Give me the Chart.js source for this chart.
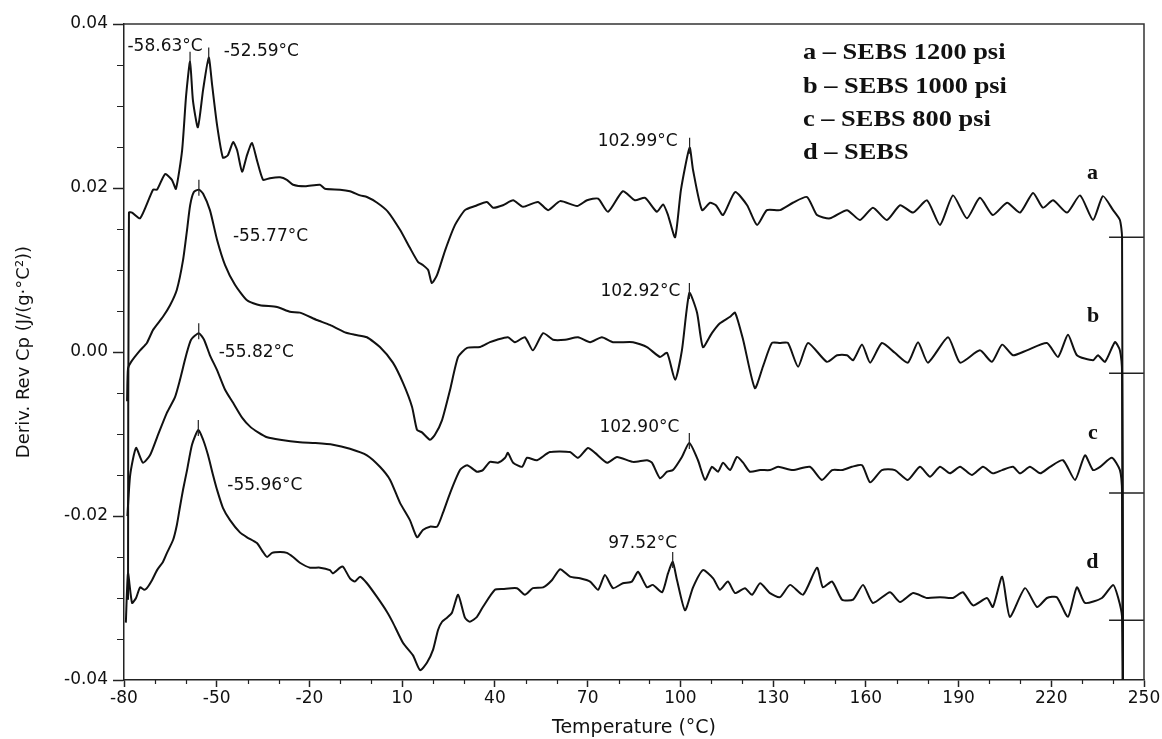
<!DOCTYPE html>
<html>
<head>
<meta charset="utf-8">
<title>Deriv. Rev Cp</title>
<script src="https://cdn.jsdelivr.net/npm/chart.js@4.4.1/dist/chart.umd.min.js"></script>
<style>
  html, body { margin: 0; padding: 0; background: #fff; }
  #wrap { width: 1162px; height: 739px; }
</style>
</head>
<body>
<div id="wrap"><canvas id="myChart" width="1162" height="739"></canvas></div>
<script>
// temperature (°C), deriv. rev Cp (J/(g·°C²))
const curveA = [
  [-78.7, -0.0302], [-78.4, 0.0170], [-77.4, 0.0170], [-74.8, 0.0163], [-70.6, 0.0198], [-69.3, 0.0198],
  [-66.7, 0.0217], [-64.5, 0.0210], [-63.2, 0.0199], [-61.2, 0.0246], [-59.9, 0.0313], [-58.63, 0.0354],
  [-57.7, 0.0307], [-56.1, 0.0274], [-54.4, 0.0320], [-52.59, 0.0359], [-51.5, 0.0326], [-49.9, 0.0277],
  [-48.0, 0.0237], [-46.4, 0.0240], [-44.7, 0.0256], [-43.4, 0.0246], [-41.8, 0.0220], [-40.2, 0.0240],
  [-38.6, 0.0255], [-37.0, 0.0234], [-35.0, 0.0210], [-32.8, 0.0212], [-29.5, 0.0213], [-27.3, 0.0210],
  [-25.3, 0.0204], [-21.4, 0.0202], [-16.6, 0.0204], [-15.0, 0.0199], [-10.1, 0.0198], [-6.9, 0.0196],
  [-3.6, 0.0191], [-1.4, 0.0189], [1.9, 0.0182], [5.4, 0.0171], [9.3, 0.0149], [12.5, 0.0127],
  [15.1, 0.0110], [16.7, 0.0106], [18.4, 0.0100], [19.6, 0.0084], [21.3, 0.0094], [23.9, 0.0124],
  [27.1, 0.0155], [30.3, 0.0173], [33.6, 0.0178], [37.4, 0.0183], [39.4, 0.0176], [42.6, 0.0179],
  [45.9, 0.0185], [49.1, 0.0177], [53.9, 0.0183], [57.2, 0.0173], [61.1, 0.0184], [66.6, 0.0178],
  [69.8, 0.0185], [73.4, 0.0187], [76.6, 0.0171], [81.4, 0.0196], [85.3, 0.0185], [88.6, 0.0188],
  [92.4, 0.0171], [94.4, 0.0180], [96.0, 0.0167], [98.3, 0.0140], [100.2, 0.0198], [102.99, 0.0249],
  [104.1, 0.0222], [107.0, 0.0173], [109.6, 0.0182], [111.5, 0.0179], [113.8, 0.0167], [117.7, 0.0195],
  [121.6, 0.0179], [124.8, 0.0155], [128.0, 0.0173], [132.2, 0.0173], [136.4, 0.0182], [141.0, 0.0189],
  [144.2, 0.0167], [148.4, 0.0163], [153.9, 0.0173], [158.1, 0.0161], [162.3, 0.0176], [166.8, 0.0161],
  [171.1, 0.0179], [175.3, 0.0170], [179.8, 0.0185], [184.0, 0.0155], [188.2, 0.0191], [192.7, 0.0163],
  [196.9, 0.0188], [201.1, 0.0167], [205.7, 0.0182], [209.9, 0.0170], [214.1, 0.0194], [217.3, 0.0176],
  [220.6, 0.0185], [225.1, 0.0170], [229.3, 0.0191], [233.5, 0.0161], [236.7, 0.0190], [240.0, 0.0173],
  [242.2, 0.0161], [242.9, 0.0140], [243.2, -0.045]
];

const curveB = [
  [-79.0, -0.0060], [-78.7, -0.0020], [-77.7, -0.0012], [-74.8, 0.0002], [-72.6, 0.0011], [-70.6, 0.0027],
  [-67.4, 0.0043], [-65.1, 0.0057], [-62.9, 0.0076], [-60.9, 0.0112], [-59.6, 0.0149], [-58.6, 0.0179],
  [-57.4, 0.0195], [-55.77, 0.0198], [-54.4, 0.0193], [-52.2, 0.0173], [-49.9, 0.0137], [-47.3, 0.0106],
  [-44.1, 0.0082], [-40.2, 0.0063], [-36.0, 0.0057], [-30.5, 0.0055], [-26.3, 0.0049], [-23.1, 0.0048],
  [-17.6, 0.0039], [-13.4, 0.0033], [-8.5, 0.0024], [-5.3, 0.0021], [-1.4, 0.0018], [2.8, 0.0006],
  [7.0, -0.0013], [10.3, -0.0038], [13.2, -0.0067], [14.8, -0.0095], [16.4, -0.0098], [19.0, -0.0107],
  [20.6, -0.0101], [22.9, -0.0083], [25.5, -0.0046], [28.1, -0.0006], [31.0, 0.0005], [35.2, 0.0006],
  [38.4, 0.0012], [40.7, 0.0015], [44.2, 0.0018], [46.5, 0.0012], [49.7, 0.0018], [52.3, 0.0002],
  [55.6, 0.0023], [58.8, 0.0015], [62.7, 0.0015], [66.9, 0.0018], [70.8, 0.0012], [74.6, 0.0018],
  [78.2, 0.0012], [84.7, 0.0012], [89.2, 0.0006], [93.4, -0.0006], [95.7, -0.0001], [98.3, -0.0034],
  [100.5, 0.0002], [102.92, 0.0072], [105.4, 0.0048], [107.3, 0.0006], [110.2, 0.0023], [112.8, 0.0035],
  [116.1, 0.0043], [117.7, 0.0048], [120.3, 0.0015], [124.1, -0.0044], [126.7, -0.0018], [129.6, 0.0011],
  [132.2, 0.0011], [134.8, 0.0011], [138.1, -0.0018], [141.3, 0.0011], [147.4, -0.0012], [150.7, -0.0004],
  [153.9, -0.0004], [155.9, -0.0010], [158.8, 0.0009], [161.4, -0.0013], [165.2, 0.0011], [169.4, -0.0001],
  [173.6, -0.0013], [176.9, 0.0012], [180.1, -0.0013], [186.6, 0.0018], [190.5, -0.0013], [196.9, 0.0002],
  [200.8, -0.0012], [204.1, 0.0009], [207.6, -0.0004], [212.1, 0.0002], [218.6, 0.0011], [222.2, -0.0006],
  [225.4, 0.0021], [228.3, -0.0004], [233.5, -0.0010], [235.1, -0.0004], [237.4, -0.0012], [240.6, 0.0012],
  [242.2, 0.0002], [242.9, -0.0026], [243.2, -0.045]
];

const curveC = [
  [-78.9, -0.0200], [-78.0, -0.0150], [-76.1, -0.0117], [-73.9, -0.0135], [-71.6, -0.0126], [-69.3, -0.0104],
  [-66.1, -0.0074], [-63.5, -0.0055], [-61.9, -0.0034], [-59.9, -0.0004], [-58.3, 0.0015], [-55.82, 0.0023],
  [-54.1, 0.0015], [-52.2, -0.0004], [-49.9, -0.0022], [-47.3, -0.0046], [-44.7, -0.0062], [-41.8, -0.0080],
  [-39.2, -0.0091], [-36.6, -0.0098], [-33.7, -0.0104], [-29.5, -0.0107], [-23.1, -0.0110], [-18.2, -0.0111],
  [-12.4, -0.0113], [-6.9, -0.0118], [-1.4, -0.0126], [2.8, -0.0140], [6.1, -0.0156], [9.3, -0.0184],
  [12.5, -0.0205], [14.8, -0.0226], [16.7, -0.0217], [19.0, -0.0213], [21.3, -0.0213], [23.2, -0.0196],
  [25.5, -0.0172], [28.7, -0.0144], [31.0, -0.0138], [34.2, -0.0146], [36.1, -0.0144], [38.4, -0.0134],
  [41.0, -0.0135], [43.3, -0.0129], [44.2, -0.0123], [45.9, -0.0135], [48.8, -0.0140], [50.4, -0.0129],
  [53.6, -0.0132], [57.8, -0.0122], [64.3, -0.0122], [66.9, -0.0129], [70.1, -0.0117], [72.4, -0.0123],
  [76.3, -0.0135], [79.5, -0.0128], [84.7, -0.0134], [89.2, -0.0132], [90.8, -0.0135], [93.4, -0.0154],
  [95.7, -0.0146], [97.6, -0.0144], [100.5, -0.0128], [102.90, -0.0111], [105.7, -0.0132], [108.0, -0.0156],
  [110.2, -0.0140], [112.2, -0.0146], [113.8, -0.0135], [116.1, -0.0144], [118.3, -0.0128], [120.3, -0.0135],
  [122.5, -0.0146], [125.8, -0.0144], [129.0, -0.0144], [131.6, -0.0140], [136.4, -0.0144], [141.9, -0.0140],
  [145.8, -0.0156], [149.1, -0.0144], [152.3, -0.0144], [155.5, -0.0140], [158.8, -0.0138], [161.4, -0.0159],
  [165.2, -0.0144], [169.4, -0.0144], [173.6, -0.0156], [177.5, -0.0140], [180.8, -0.0152], [184.0, -0.0140],
  [187.2, -0.0148], [190.5, -0.0140], [194.3, -0.0150], [197.9, -0.0140], [201.1, -0.0148], [204.1, -0.0144],
  [207.6, -0.0140], [209.9, -0.0148], [213.1, -0.0140], [216.4, -0.0148], [219.6, -0.0140], [223.8, -0.0132],
  [227.7, -0.0156], [230.9, -0.0126], [233.5, -0.0144], [235.8, -0.0140], [239.6, -0.0129], [242.2, -0.0144],
  [242.9, -0.0172], [243.2, -0.045]
];

const curveD = [
  [-79.4, -0.0330], [-78.7, -0.0270], [-77.4, -0.0306], [-76.1, -0.0300], [-74.8, -0.0287], [-73.5, -0.0290],
  [-72.6, -0.0288], [-70.9, -0.0278], [-69.3, -0.0266], [-67.4, -0.0256], [-66.1, -0.0245], [-64.1, -0.0229],
  [-62.9, -0.0211], [-61.9, -0.0189], [-60.9, -0.0168], [-59.6, -0.0144], [-58.0, -0.0113], [-55.96, -0.0095],
  [-54.4, -0.0107], [-52.8, -0.0126], [-51.2, -0.0150], [-49.9, -0.0168], [-48.0, -0.0190], [-45.7, -0.0205],
  [-42.5, -0.0220], [-40.2, -0.0226], [-37.0, -0.0233], [-35.0, -0.0244], [-33.7, -0.0250], [-32.1, -0.0245],
  [-29.5, -0.0244], [-27.3, -0.0245], [-25.3, -0.0250], [-23.1, -0.0257], [-19.8, -0.0263], [-16.6, -0.0263],
  [-13.4, -0.0266], [-12.4, -0.0270], [-10.1, -0.0263], [-9.1, -0.0262], [-6.9, -0.0276], [-5.3, -0.0280],
  [-3.6, -0.0274], [-1.4, -0.0282], [1.9, -0.0299], [5.1, -0.0317], [7.0, -0.0330], [10.3, -0.0355],
  [13.5, -0.0370], [15.8, -0.0388], [18.0, -0.0379], [20.0, -0.0363], [21.6, -0.0339], [22.9, -0.0329],
  [24.5, -0.0324], [26.1, -0.0318], [28.1, -0.0296], [30.3, -0.0324], [31.9, -0.0329], [34.2, -0.0323],
  [36.1, -0.0311], [40.0, -0.0290], [42.6, -0.0289], [47.1, -0.0288], [49.7, -0.0296], [52.3, -0.0288],
  [55.6, -0.0287], [58.5, -0.0278], [61.1, -0.0265], [64.3, -0.0274], [67.5, -0.0276], [70.8, -0.0280],
  [73.4, -0.0290], [75.6, -0.0272], [78.2, -0.0288], [81.4, -0.0282], [84.3, -0.0280], [86.3, -0.0268],
  [89.2, -0.0287], [91.1, -0.0284], [94.1, -0.0293], [96.0, -0.0270], [97.52, -0.0256], [98.9, -0.0278],
  [101.5, -0.0315], [104.1, -0.0287], [107.3, -0.0266], [110.6, -0.0276], [112.8, -0.0290], [115.4, -0.0280],
  [117.7, -0.0294], [120.9, -0.0288], [123.2, -0.0296], [125.8, -0.0282], [129.0, -0.0294], [132.2, -0.0299],
  [135.5, -0.0284], [139.7, -0.0296], [144.2, -0.0263], [146.1, -0.0287], [149.1, -0.0280], [152.3, -0.0302],
  [155.9, -0.0302], [159.1, -0.0284], [162.3, -0.0306], [167.8, -0.0293], [171.1, -0.0305], [175.3, -0.0294],
  [179.8, -0.0300], [184.0, -0.0299], [188.2, -0.0300], [191.4, -0.0293], [194.7, -0.0309], [199.2, -0.0300],
  [201.1, -0.0311], [204.1, -0.0274], [206.6, -0.0323], [211.5, -0.0288], [215.4, -0.0311], [218.6, -0.0300],
  [221.8, -0.0299], [225.4, -0.0323], [228.3, -0.0287], [230.9, -0.0306], [236.4, -0.0300], [240.0, -0.0284],
  [241.6, -0.0299], [242.9, -0.0323], [243.2, -0.045]
];

const seriesNames = ["a – SEBS 1200 psi", "b – SEBS 1000 psi", "c – SEBS 800 psi", "d – SEBS"];
const curveTags = ["a", "b", "c", "d"];

// marked peaks
const peakTemps  = [-58.63, -52.59, -55.77, 102.99, 102.92, -55.82, 102.90, -55.96, 97.52];
const peakValues = [0.0354, 0.0359, 0.0198, 0.0249, 0.0072, 0.0023, -0.0111, -0.0095, -0.0256];

// cursor levels at the end of each run
const cursorValues = [0.0140, -0.0026, -0.0172, -0.0327];
const cursorSpan = [238.7, 250];

const xTicks = { min: -80, max: 250, step: 30, minor: 10 };
const yTicks = { min: -0.04, max: 0.04, step: 0.02, minor: 0.005 };

// label placement around each peak (px): dx, dy, text alignment
const peakLabelStyle = [
  { dx: -25, dy: -15, align: "center" },
  { dx: 15, dy: -6, align: "left" },
  { dx: 34, dy: 47, align: "left" },
  { dx: -12, dy: -6, align: "right" },
  { dx: -9, dy: -1, align: "right" },
  { dx: 20, dy: 19, align: "left" },
  { dx: -10, dy: -15, align: "right" },
  { dx: 29, dy: 56, align: "left" },
  { dx: -30, dy: -18, align: "center" }
];
const tagPos = [[233.3, 0.0218], [233.5, 0.0044], [233.5, -0.0099], [233.3, -0.0257]];

const INK = "#111";
Chart.defaults.font.family = "'DejaVu Sans', sans-serif";
Chart.defaults.color = INK;

const toPoints = (arr) => arr.map(p => ({ x: p[0], y: p[1] }));

const curveSet = (name, arr) => ({
  label: name,
  data: toPoints(arr),
  borderColor: INK,
  borderWidth: 2,
  pointRadius: 0,
  tension: 0.2,
  fill: false
});

const datasets = [
  curveSet(seriesNames[0], curveA),
  curveSet(seriesNames[1], curveB),
  curveSet(seriesNames[2], curveC),
  curveSet(seriesNames[3], curveD)
];
cursorValues.forEach((v, i) => {
  datasets.push({
    label: "cursor " + curveTags[i],
    data: cursorSpan.map(t => ({ x: t, y: v })),
    borderColor: "#222",
    borderWidth: 1.5,
    pointRadius: 0,
    tension: 0
  });
});

const overlay = {
  id: "overlay",
  afterDraw(chart) {
    const { ctx, chartArea: area, scales: { x, y } } = chart;
    ctx.save();

    // box top and right
    ctx.strokeStyle = "#333";
    ctx.lineWidth = 1.5;
    ctx.beginPath();
    ctx.moveTo(area.left, area.top);
    ctx.lineTo(area.right, area.top);
    ctx.lineTo(area.right, area.bottom);
    ctx.stroke();

    // minor ticks
    ctx.strokeStyle = "#222";
    ctx.lineWidth = 1.2;
    ctx.beginPath();
    for (let v = yTicks.min; v <= yTicks.max + 1e-9; v += yTicks.minor) {
      const r = Math.round((v - yTicks.min) / yTicks.minor);
      if (r % Math.round(yTicks.step / yTicks.minor) === 0) continue;
      const py = Math.round(y.getPixelForValue(v)) + 0.5;
      ctx.moveTo(area.left - 7, py);
      ctx.lineTo(area.left, py);
    }
    for (let t = xTicks.min; t <= xTicks.max; t += xTicks.minor) {
      if ((t - xTicks.min) % xTicks.step === 0) continue;
      const px = Math.round(x.getPixelForValue(t)) + 0.5;
      ctx.moveTo(px, area.bottom);
      ctx.lineTo(px, area.bottom + 4);
    }
    ctx.stroke();

    // peak markers and temperatures
    ctx.font = "17px 'DejaVu Sans'";
    ctx.fillStyle = INK;
    ctx.textBaseline = "middle";
    peakTemps.forEach((t, i) => {
      const px = x.getPixelForValue(t);
      const py = y.getPixelForValue(peakValues[i]);
      ctx.beginPath();
      ctx.moveTo(px, py - 10);
      ctx.lineTo(px, py + 6);
      ctx.stroke();
      const s = peakLabelStyle[i];
      ctx.textAlign = s.align;
      ctx.fillText(t.toFixed(2) + "°C", px + s.dx, py + s.dy);
    });

    // curve tags
    ctx.font = "bold 22px 'Liberation Serif'";
    ctx.textAlign = "center";
    curveTags.forEach((tag, i) => {
      ctx.fillText(tag, x.getPixelForValue(tagPos[i][0]), y.getPixelForValue(tagPos[i][1]));
    });

    // sample key
    ctx.font = "bold 24px 'Liberation Serif'";
    ctx.textAlign = "left";
    seriesNames.forEach((name, i) => {
      ctx.save();
      ctx.translate(area.right - 341, area.top + 29 + i * 33.4);
      ctx.scale(1.1, 1);
      ctx.fillText(name, 0, 0);
      ctx.restore();
    });

    ctx.restore();
  }
};

new Chart(document.getElementById("myChart"), {
  type: "line",
  data: { datasets },
  options: {
    responsive: false,
    animation: false,
    devicePixelRatio: 1,
    layout: { padding: { left: 0, right: 18, top: 24, bottom: 0 } },
    plugins: {
      legend: { display: false },
      tooltip: { enabled: false }
    },
    scales: {
      x: {
        type: "linear",
        min: xTicks.min,
        max: xTicks.max,
        afterFit: (s) => { s.height = 59; },
        ticks: { stepSize: xTicks.step, padding: 1, font: { size: 17 }, color: INK, maxRotation: 0 },
        grid: { display: true, drawOnChartArea: false, drawTicks: true, tickLength: 7, tickColor: "#222", tickWidth: 1.5 },
        border: { display: true, color: "#222", width: 1.5 },
        title: { display: true, text: "Temperature (°C)", font: { size: 19 }, color: INK, padding: { top: 0, bottom: 0 } }
      },
      y: {
        type: "linear",
        min: yTicks.min,
        max: yTicks.max,
        afterFit: (s) => { s.width = 124; },
        ticks: { stepSize: yTicks.step, padding: 5, font: { size: 17 }, color: INK, callback: (v) => Number(v).toFixed(2) },
        grid: { display: true, drawOnChartArea: false, drawTicks: true, tickLength: 11, tickColor: "#222", tickWidth: 1.5 },
        border: { display: true, color: "#222", width: 1.5 },
        title: { display: true, text: "Deriv. Rev Cp (J/(g·°C²))", font: { size: 18 }, color: INK, padding: { top: 14, bottom: 0 } }
      }
    }
  },
  plugins: [overlay]
});
</script>
</body>
</html>
